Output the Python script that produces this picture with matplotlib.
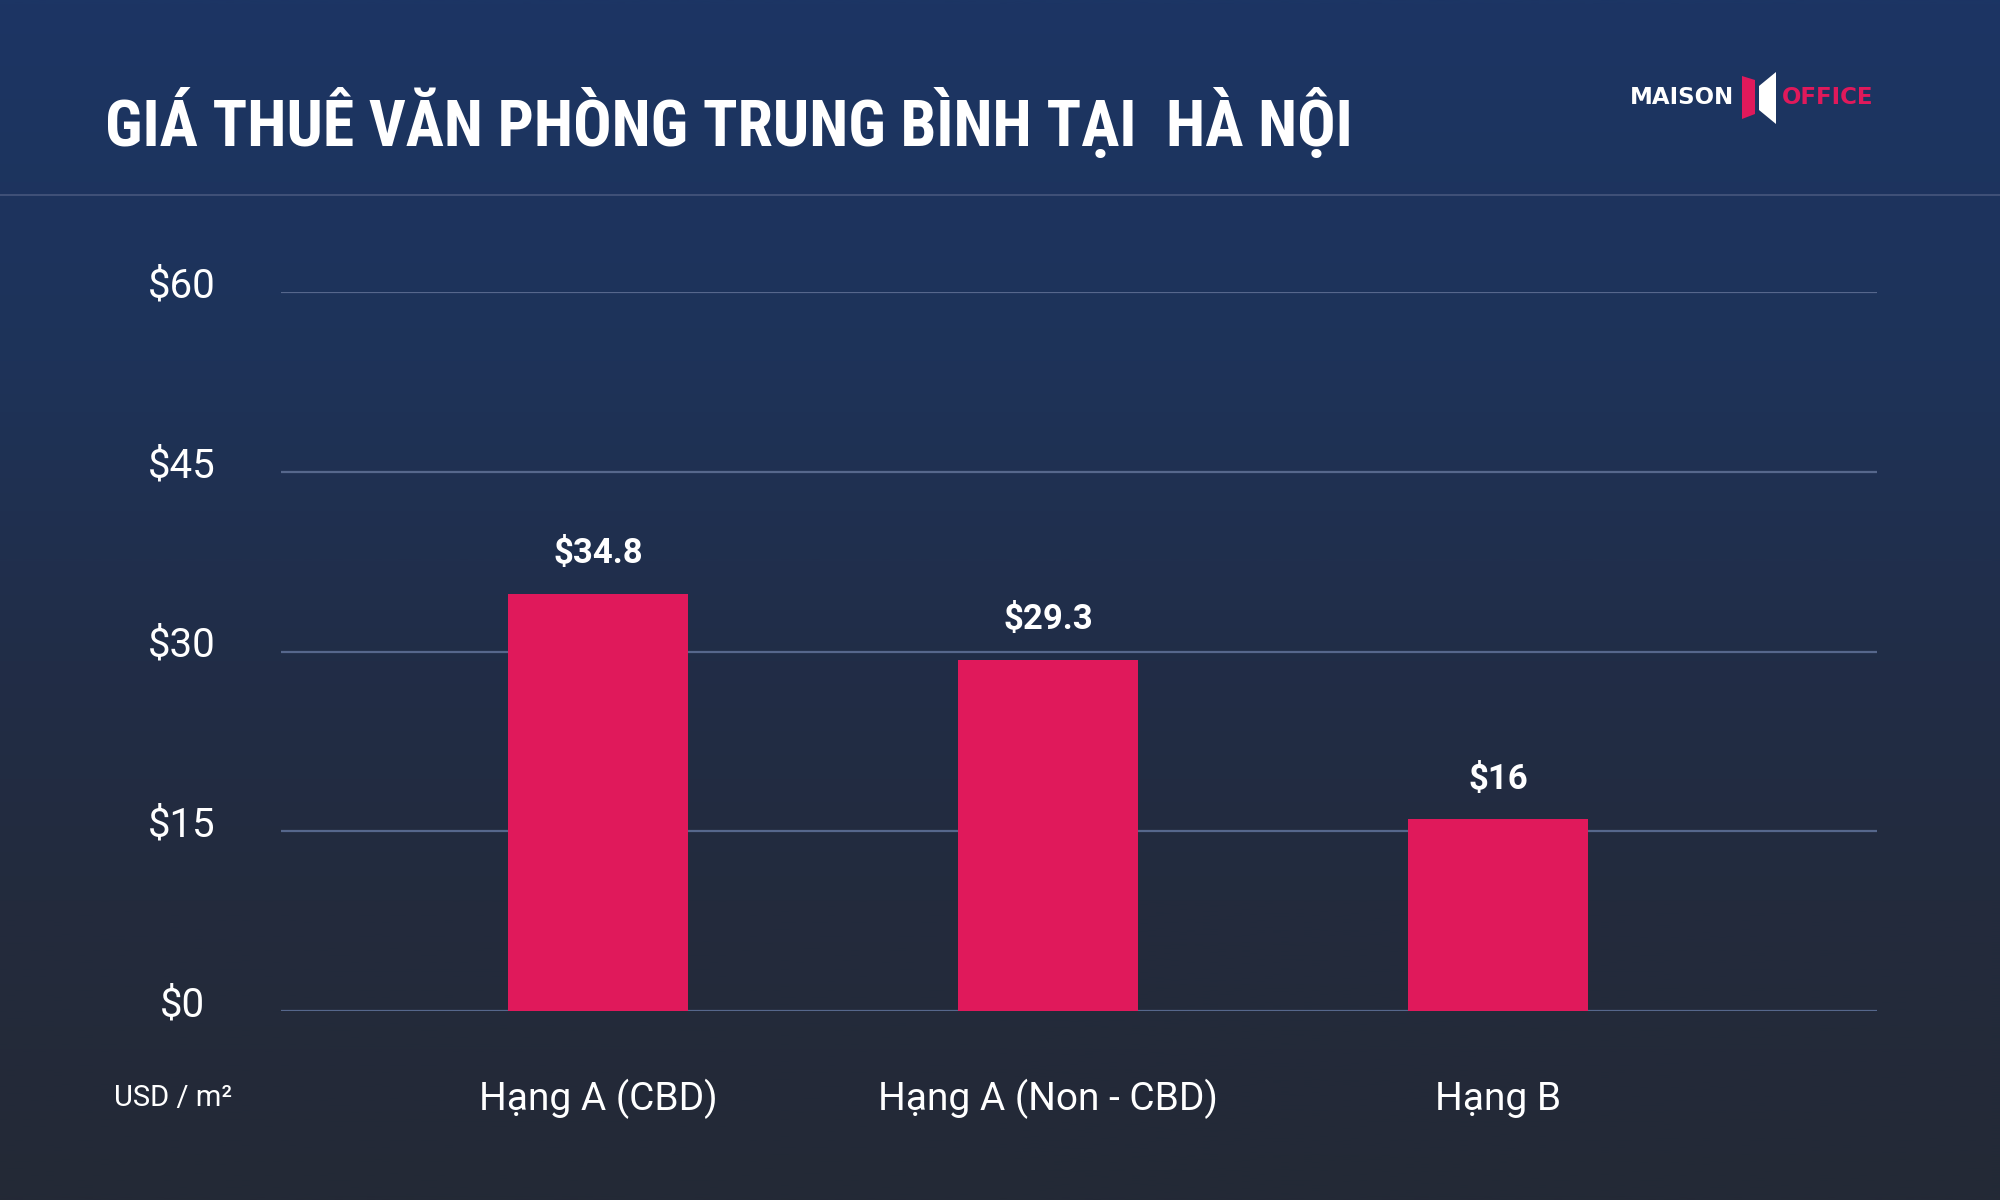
import numpy as np
import matplotlib as mpl
mpl.use('Agg')
import matplotlib.pyplot as plt
from matplotlib import font_manager
from matplotlib.colors import LinearSegmentedColormap
from matplotlib.patches import Polygon
from matplotlib.transforms import ScaledTranslation

# data
categories = ['Hạng A (CBD)', 'Hạng A (Non - CBD)', 'Hạng B']
rents = [34.8, 29.3, 16]
value_labels = ['$34.8', '$29.3', '$16']
yticks = [0, 15, 30, 45, 60]
ytick_labels = ['$0', '$15', '$30', '$45', '$60']

title = 'GIÁ THUÊ VĂN PHÒNG TRUNG BÌNH TẠI  HÀ NỘI'
unit_label = 'USD / m²'

# style
bar_color = '#e0195b'
grid_color = '#56678c'
text_color = '#ffffff'
light = ['Roboto', 'DejaVu Sans']
W, H = 2000, 1200


def px(x, y):
    # pixel (from top-left) -> figure fraction
    return (x / W, 1 - y / H)


# look for a narrow bold face for the title, else plain Roboto bold
title_font = dict(family=['Roboto', 'DejaVu Sans'], fontweight='bold', fontsize=41)
names = {f.name: f for f in font_manager.fontManager.ttflist}
for cand in ['Roboto Condensed', 'Liberation Sans Narrow', 'Open Sans Condensed',
             'Noto Sans Condensed', 'DejaVu Sans Condensed']:
    if cand in names:
        title_font = dict(family=[cand, 'DejaVu Sans'], fontweight='bold', fontsize=46)
        break
else:
    cond = [f for f in font_manager.fontManager.ttflist
            if f.name == 'DejaVu Sans' and f.stretch == 'condensed' and f.weight in (700, 'bold')]
    if cond:
        title_font = dict(family=['DejaVu Sans'], fontweight='bold', fontsize=42,
                          fontstretch='condensed')

fig = plt.figure(figsize=(20, 12), dpi=100)

# background gradient
bg = fig.add_axes([0, 0, 1, 1])
bg_cmap = LinearSegmentedColormap.from_list(
    'bg', [(0.0, '#1c3564'), (0.3, '#1e3359'), (0.55, '#212d47'),
           (0.75, '#232b3d'), (1.0, '#232936')])
grad = np.linspace(0, 1, 512).reshape(-1, 1)
bg.imshow(grad, cmap=bg_cmap, aspect='auto', extent=[0, 1, 0, 1], origin='upper')
bg.set_xlim(0, 1)
bg.set_ylim(0, 1)
bg.axis('off')

# header divider
bg.plot([0, 1], [1 - 195 / H, 1 - 195 / H], color='#46577d', lw=1.2)

# title
fig.text(*px(105, 124), title, color='white', ha='left', va='center', **title_font)

# logo
fig.text(*px(1734, 98), 'MAISON', color='white', fontsize=16.5, fontweight='bold',
         family=['DejaVu Sans'], ha='right', va='center')
fig.text(*px(1782, 98), 'OFFICE', color=bar_color, fontsize=16.5, fontweight='bold',
         family=['DejaVu Sans'], ha='left', va='center')
pink = [px(1742, 76), px(1755, 80), px(1755, 114), px(1742, 119)]
white = [px(1759, 86), px(1776, 72), px(1776, 124), px(1759, 110)]
fig.add_artist(Polygon(pink, closed=True, transform=fig.transFigure,
                       facecolor=bar_color, edgecolor='none'))
fig.add_artist(Polygon(white, closed=True, transform=fig.transFigure,
                       facecolor='white', edgecolor='none'))

# main chart
ax = fig.add_axes([281 / W, (H - 1011) / H, (1877 - 281) / W, (1011 - 292) / H])
ax.patch.set_alpha(0)
x = np.arange(len(categories))
ax.bar(x, rents, width=0.4, color=bar_color, zorder=3)
ax.set_xlim(-0.704, 2.842)
ax.set_ylim(0, 60)

for xi, v, lab in zip(x, rents, value_labels):
    ax.annotate(lab, (xi, v), xytext=(0, 40 * 72 / 100), textcoords='offset points',
                ha='center', va='center', color=text_color, fontsize=25,
                fontweight='bold', family=light)

ax.set_yticks(yticks)
ax.set_yticklabels(ytick_labels)
ax.set_xticks(x)
ax.set_xticklabels(categories)
ax.yaxis.grid(True, color=grid_color, lw=1.6, zorder=1)
ax.tick_params(axis='y', length=0, pad=99 * 72 / 100, labelsize=29, labelcolor=text_color)
ax.tick_params(axis='x', length=0, pad=88 * 72 / 100, labelsize=28, labelcolor=text_color)
lift = ScaledTranslation(0, 6 / 100, fig.dpi_scale_trans)
for t in ax.get_yticklabels():
    t.set_ha('center')
    t.set_va('center')
    t.set_family(light)
    t.set_fontweight('normal')
    t.set_transform(t.get_transform() + lift)
for t in ax.get_xticklabels():
    t.set_va('center')
    t.set_family(light)
    t.set_fontweight('normal')
for s in ax.spines.values():
    s.set_visible(False)

fig.text(*px(173, 1098), unit_label, color=text_color, fontsize=21, fontweight='normal',
         family=light, ha='center', va='center')

fig.savefig('out.png', dpi=100)
